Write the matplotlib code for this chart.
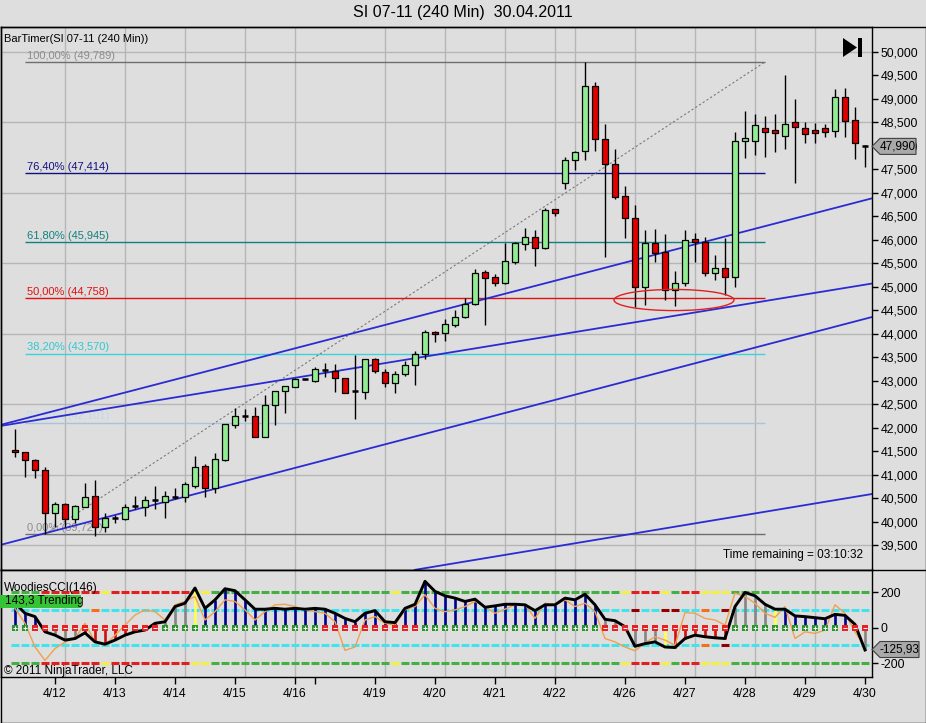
import numpy as np
import matplotlib.pyplot as plt
from matplotlib.patches import Rectangle, Ellipse, Polygon
from matplotlib.lines import Line2D
from matplotlib.ticker import FuncFormatter

plt.rcParams['font.family'] = ['Liberation Sans', 'DejaVu Sans']

W, H = 926, 723
BG = '#dedede'

# SI 07-11, 240 min bars (OHLC)
opens = [41517, 41480, 41304, 41091, 40175, 40366, 40047, 40316, 40543, 39889,
         40068, 40047, 40316, 40303, 40443, 40422, 40522, 40515, 40756, 41182,
         40707, 41310, 42066, 42247, 42247, 41794, 42475, 42790, 42872, 43029,
         43000, 43227, 43212, 43050, 42765, 42765, 43455, 43191, 42956, 43135,
         43333, 43561, 44043, 44009, 44185, 44350, 44626, 45308, 45202, 45074,
         45534, 45904, 46054, 45819, 46650, 47216, 47700, 47892, 49276, 48141,
         47608, 46933, 46458, 45001, 45938, 45747, 44931, 45086, 46011, 45960,
         45299, 45393, 45202, 48105, 48105, 48388, 48339, 48218, 48516, 48375,
         48339, 48375, 48318, 49036, 48552, 48000]
highs = [41964, 41490, 41331, 41155, 40422, 40388, 40352, 40814, 40884, 40187,
         40139, 40366, 40543, 40543, 40756, 40650, 40707, 40848, 41395, 41225,
         41465, 42070, 42411, 42386, 42439, 42694, 42790, 42886, 43050, 43040,
         43297, 43370, 43355, 43055, 43546, 43455, 43476, 43242, 43212, 43425,
         43638, 44080, 44050, 44307, 44505, 44754, 45372, 45357, 45265, 45938,
         45945, 46245, 46209, 46684, 46655, 47758, 47898, 49789, 49355, 48467,
         47928, 47146, 46741, 46209, 46224, 46124, 45342, 46209, 46139, 46054,
         45676, 46032, 48303, 48750, 48680, 48637, 48680, 49510, 48993, 48516,
         48482, 48467, 49206, 49227, 48823, 48010]
lows = [41380, 40954, 40933, 39727, 39889, 39889, 39962, 40303, 39700, 39783,
        39974, 40040, 40260, 40117, 40260, 40068, 40473, 40422, 40707, 40515,
        40601, 41289, 42002, 42147, 41794, 41794, 42066, 42317, 42859, 43020,
        42978, 43072, 42765, 42743, 42177, 42603, 43169, 42859, 42731, 43099,
        42907, 43455, 43834, 43851, 44149, 44328, 44611, 44185, 45023, 45059,
        45485, 45783, 45449, 45798, 46514, 47076, 47487, 47700, 47898, 45628,
        46863, 46032, 44575, 44611, 45527, 44718, 44590, 45016, 45534, 45229,
        45144, 44824, 45001, 47736, 47806, 47770, 47877, 47928, 47216, 48068,
        48068, 48196, 48184, 48196, 47715, 47557]
closes = [41480, 41304, 41091, 40175, 40366, 40047, 40330, 40528, 39889, 40068,
          40075, 40316, 40322, 40458, 40450, 40543, 40528, 40792, 41167, 40707,
          41325, 42070, 42247, 42252, 41794, 42475, 42790, 42886, 43029, 43034,
          43242, 43232, 43050, 42743, 42770, 43455, 43212, 42956, 43135, 43333,
          43561, 44043, 43994, 44200, 44350, 44626, 45287, 45180, 45074, 45549,
          45938, 46054, 45819, 46635, 46577, 47700, 47864, 49276, 48141, 47608,
          46918, 46458, 45001, 45938, 45725, 44931, 45086, 45996, 45960, 45299,
          45393, 45202, 48105, 48162, 48439, 48290, 48269, 48460, 48409, 48247,
          48269, 48303, 49036, 48537, 48056, 47990]

date_ticks = [4, 10, 16, 22, 28, 30, 36, 42, 48, 54, 61, 67, 73, 79, 85]
date_labels = ['4/12', '4/13', '4/14', '4/15', '4/16', '', '4/19', '4/20',
               '4/21', '4/22', '4/26', '4/27', '4/28', '4/29', '4/30']
grid_bars = [5, 11, 17, 23, 28, 37, 43, 49, 54, 56, 62, 68, 74, 80]

fib_low, fib_high = 39727, 49789
fib_ratios = [1.0, 0.764, 0.618, 0.5, 0.382, 0.236, 0.0]
fib_line_colors = ['#6e6e6e', '#101080', '#108080', '#e01010', '#3cd2dc', '#a8c4dc', '#6e6e6e']
fib_text_colors = ['#8c8c8c', '#101080', '#108080', '#e01010', '#30c8d0', '#c4d8ea', '#8c8c8c']
fib_start, fib_end = 1, 75

# trend lines drawn by hand: (bar0, price0, bar1, price1)
trend_lines = [(-1.5, 42055, 85.7, 46884),
               (-1.5, 42034, 85.7, 45069),
               (-1.5, 39499, 85.7, 44356),
               (40.0, 38971, 85.7, 40586)]

# WoodiesCCI panel
cci = [140, 82, 63, -23, -42, -70, -61, -29, -80, -93,
       -70, -42, -23, -13, 25, 34, 120, 139, 225, 110,
       158, 221, 210, 158, 105, 105, 110, 105, 110, 105,
       110, 105, 82, 53, 34, 82, 97, 34, 29, 110,
       133, 263, 206, 181, 168, 149, 162, 116, 124, 133,
       133, 130, 97, 130, 130, 168, 158, 190, 130, 48,
       40, 6, -105, -90, -80, -109, -112, -61, -42, -51,
       -57, -61, 120, 200, 181, 133, 105, 105, 67, 63,
       57, 51, 76, 70, 19, -125.93]
turbo = [110, 25, -109, -185, -118, -80, -61, 25, -80, -99,
         -42, 15, 72, 101, 91, 44, 130, 149, 177, 44,
         91, 158, 149, 101, 44, 91, 130, 133, 120, 101,
         91, 82, 34, -128, -109, 44, 63, 25, 15, 101,
         120, 187, 110, 91, 101, 120, 149, 120, 82, 105,
         130, 130, 53, 139, 130, 158, 120, 139, 91, -61,
         -80, -109, -131, -86, -51, -70, -99, 86, 82, 53,
         44, 15, 196, 177, 139, 82, 59, 120, -61, -23,
         -32, -13, 130, 82, -23, -109]
zero_signs = '++' + '-' * 13 + '+' * 16 + '-' * 10 + '+' * 18 + '-' * 13 + '+' * 11 + '-' * 3
hist_codes = 'bbbrgggrrrrrrrrgggy' + 'b' * 40 + 'ggggggyrrrrrrggggy' + 'b' * 7 + 'gg'
band_codes = 'GGG' + 'R' * 6 + 'Y' + 'R' * 8 + 'YY' + 'G' * 18 + 'Y' + 'G' * 22 + 'YRRRYGRRYYY' + 'G' * 14
up100_codes = {8: 'O', 62: 'D', 65: 'D', 66: 'D', 69: 'O', 71: 'D'}
dn100_codes = {69: 'O', 71: 'D'}

hist_col = {'b': '#000090', 'g': '#858585', 'r': '#cc1010', 'y': '#ffff50'}
band_col = {'G': '#44b044', 'R': '#e02020', 'Y': '#f4f040'}
mid_col = {'C': '#44e2ea', 'O': '#f07020', 'D': '#900000'}

n = len(opens)
idx = np.arange(n)


def fx(px):
    return px / W


def fy(py):
    return 1 - py / H


fig = plt.figure(figsize=(W / 100, H / 100), dpi=100, facecolor=BG)
ax = fig.add_axes([fx(1), fy(569.5), fx(872) - fx(1), fy(27) - fy(569.5)])
ax2 = fig.add_axes([fx(1), fy(677), fx(872) - fx(1), fy(569.5) - fy(677)])

# ---- price panel
ax.set_facecolor(BG)
ax.set_xlim(-1.4, 85.7)
ax.set_ylim(38978, 50533)
for b in grid_bars:
    ax.axvline(b, color='#b6b6b6', lw=1, zorder=0)
for p in range(39500, 50001, 1500):
    ax.axhline(p, color='#b6b6b6', lw=1, zorder=0)

for r, lc, tc in zip(fib_ratios, fib_line_colors, fib_text_colors):
    price = fib_low + r * (fib_high - fib_low)
    ax.hlines(price, fib_start, fib_end, colors=lc, lw=1, zorder=1)
    label = f'{r * 100:.2f}% ({int(price):,})'.replace('.', ',', 1)
    ax.annotate(label, (fib_start + 0.2, price), xytext=(0, 1), textcoords='offset points',
                color=tc, fontsize=8, va='bottom', ha='left', zorder=1)

ax.plot([3, 75], [fib_low, fib_high], color='#7a7a7a', lw=0.8, ls=(0, (2, 2)), zorder=1)

for x0, p0, x1, p1 in trend_lines:
    ax.plot([x0, x1], [p0, p1], color='#2b2bd4', lw=1.3, zorder=2)

ax.vlines(idx, lows, highs, color='black', lw=1, zorder=3)
for i in range(n):
    o, c = opens[i], closes[i]
    if abs(c - o) < 25:
        ax.hlines(c, i - 0.34, i + 0.34, color='black', lw=1.8, zorder=4)
    else:
        col = '#92ec92' if c > o else '#e00000'
        ax.add_patch(Rectangle((i - 0.33, min(o, c)), 0.66, abs(c - o),
                               facecolor=col, edgecolor='black', lw=0.9, zorder=4))

ax.add_patch(Ellipse((65.9, 44718), 12, 450, fill=False, edgecolor='#e02020', lw=1, zorder=5))

ax.yaxis.tick_right()
ax.set_yticks(range(39500, 50001, 500))
ax.yaxis.set_major_formatter(FuncFormatter(lambda v, _: f'{int(v):,}'))
ax.tick_params(axis='y', direction='out', length=4, width=1, labelsize=8.8, pad=2)
ax.tick_params(axis='x', bottom=False, labelbottom=False)
for s in ax.spines.values():
    s.set_color('black')
    s.set_linewidth(1)

# ---- CCI panel
ax2.set_facecolor(BG)
ax2.set_xlim(-1.4, 85.7)
ax2.set_ylim(-279, 330)
for b in grid_bars:
    ax2.axvline(b, color='#b6b6b6', lw=1, zorder=0)
for i in range(n):
    bc = band_col[band_codes[i]]
    ax2.hlines([200, -200], i - 0.36, i + 0.36, colors=bc, lw=2.2, zorder=1)
    ax2.hlines(100, i - 0.36, i + 0.36, colors=mid_col[up100_codes.get(i, 'C')], lw=2.2, zorder=1)
    ax2.hlines(-100, i - 0.36, i + 0.36, colors=mid_col[dn100_codes.get(i, 'C')], lw=2.2, zorder=1)

ax2.vlines(idx, 0, cci, colors=[hist_col[h] for h in hist_codes], lw=1.9, zorder=2)
ax2.plot(idx, turbo, color='#f0a050', lw=1, zorder=3)
ax2.plot(idx, cci, color='black', lw=2.1, zorder=4)

plus = [i for i in range(n) if zero_signs[i] == '+']
minus = [i for i in range(n) if zero_signs[i] == '-']
ax2.scatter(plus, np.zeros(len(plus)), marker='s', s=17, c='#2a962a', edgecolors='none', zorder=5)
ax2.scatter(minus, np.zeros(len(minus)), marker='s', s=17, c='#e82020', edgecolors='none', zorder=5)
ax2.scatter(plus, np.zeros(len(plus)), marker='+', s=5, c='white', linewidths=0.7, zorder=6)
ax2.scatter(minus, np.zeros(len(minus)), marker='_', s=5, c='white', linewidths=0.7, zorder=6)

ax2.yaxis.tick_right()
ax2.set_yticks([200, 0, -200])
ax2.set_yticklabels(['200', '0', '-200'])
ax2.set_xticks(date_ticks)
ax2.set_xticklabels(date_labels)
ax2.tick_params(axis='y', direction='out', length=4, width=1, labelsize=8.8, pad=2)
ax2.tick_params(axis='x', direction='out', length=5, width=1, labelsize=8.8, pad=3)
for s in ax2.spines.values():
    s.set_color('black')
    s.set_linewidth(1)

# ---- texts
fig.text(0.5, fy(13), 'SI 07-11 (240 Min)  30.04.2011', ha='center', va='center', fontsize=11.5)
fig.text(fx(4), fy(39), 'BarTimer(SI 07-11 (240 Min))', ha='left', va='center', fontsize=8)
fig.text(fx(723), fy(555), 'Time remaining = 03:10:32', ha='left', va='center', fontsize=8.5)
fig.text(fx(4), fy(588), 'WoodiesCCI(146)', ha='left', va='center', fontsize=8.5)
fig.text(fx(4), fy(671), '\u00a9 2011 NinjaTrader, LLC', ha='left', va='center', fontsize=8.5)
fig.patches.append(Rectangle((fx(0), fy(607.5)), fx(81), fy(595) - fy(607.5),
                             transform=fig.transFigure, facecolor='#36c436', edgecolor='none', zorder=6))
fig.text(fx(5), fy(601), '143,3 Trending', ha='left', va='center', fontsize=8.5, zorder=7)


def tag(y, text, x1):
    pts = [(872, y), (880, y - 8), (x1, y - 8), (x1, y + 8), (880, y + 8)]
    fig.patches.append(Polygon([(fx(a), fy(b)) for a, b in pts], closed=True,
                               transform=fig.transFigure, facecolor='#a9a9a9',
                               edgecolor='#404040', lw=0.8, zorder=6))
    fig.text(fx(880 + (x1 - 880) / 2), fy(y), text, ha='center', va='center', fontsize=8.5, zorder=7)


tag(146.4, '47,990', 916)
tag(649.5, '-125,93', 919)

# the "go to end" glyph in the upper right corner
fig.patches.append(Polygon([(fx(843), fy(38)), (fx(843), fy(57)), (fx(857), fy(47.5))],
                           closed=True, transform=fig.transFigure, facecolor='black', zorder=6))
fig.patches.append(Rectangle((fx(858), fy(57)), fx(4), fy(38) - fy(57),
                             transform=fig.transFigure, facecolor='black', zorder=6))

# outer frame
for xs, ys in [([0.5, 925.5], [27, 27]), ([0.5, 925.5], [569.5, 569.5]),
               ([0.5, 925.5], [722.5, 722.5]), ([0.5, 0.5], [27, 722.5]),
               ([925.5, 925.5], [27, 722.5])]:
    fig.add_artist(Line2D([fx(v) for v in xs], [fy(v) for v in ys], color='black', lw=1))

fig.savefig('out.png', dpi=100, facecolor=BG)
